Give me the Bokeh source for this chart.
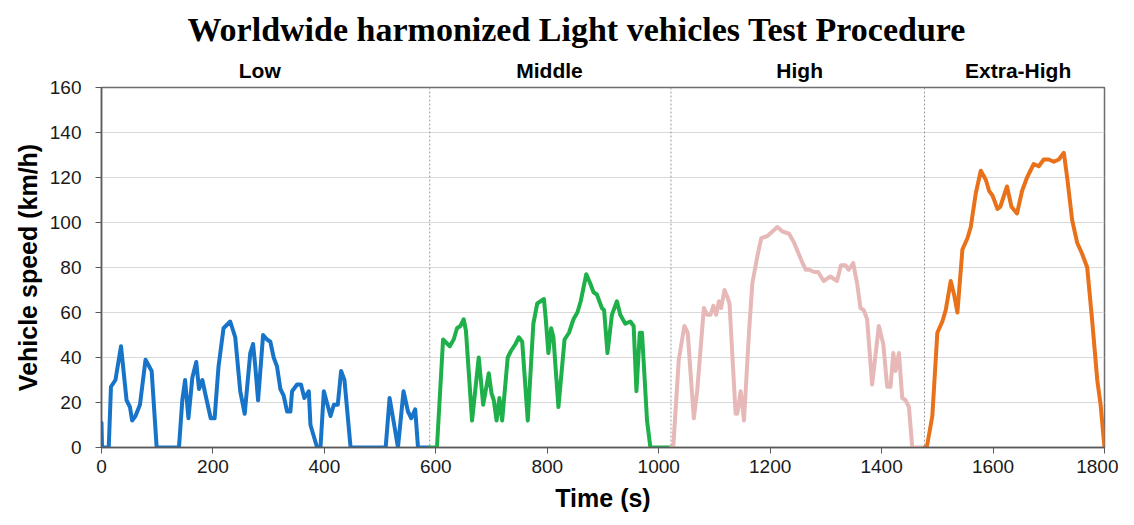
from bokeh.plotting import figure
from bokeh.models import Range1d, LinearAxis, FixedTicker, Span, Title
from bokeh.embed import file_html
from bokeh.resources import INLINE

# ---- data ----
title_text = "Worldwide harmonized Light vehicles Test Procedure"
phase_names = ["Low", "Middle", "High", "Extra-High"]
phase_label_t = [284, 804, 1253, 1645]
phase_bounds = [589, 1022, 1477]

t_low = [0, 1, 13, 17, 25, 35, 45, 51, 55, 61, 69, 79, 90, 99, 139, 145, 150, 156, 163, 170,
         175, 181, 187, 196, 203, 210, 219, 231, 240, 249, 257, 267, 272, 276, 281, 290, 297,
         303, 309, 315, 321, 327, 333, 339, 342, 351, 358, 364, 372, 375, 387, 393, 399, 411,
         417, 424, 430, 436, 447, 510, 517, 526, 532, 542, 550, 556, 563, 568, 589]
v_low = [11, 0, 0, 27, 30, 45, 21, 18, 12, 14, 19, 39, 34, 0, 0, 21, 30, 13, 31, 38,
         26, 30, 23, 13, 13, 36, 53, 56, 49, 25, 15, 42, 46, 36, 21, 50, 48,
         47, 40, 36, 26, 23, 16, 16, 25, 28, 28, 22, 25, 10, 0, 0, 25, 14,
         19, 19, 34, 30, 0, 0, 22, 9, 0, 25, 16, 13, 17, 0, 0]

t_mid = [589, 602, 613, 625, 632, 638, 644, 650, 654, 665, 677, 685, 695, 700, 704, 709, 714,
         719, 729, 735, 743, 749, 755, 765, 775, 782, 794, 797, 802, 807, 811, 820, 831, 839,
         847, 854, 860, 870, 877, 883, 889, 898, 902, 908, 916, 925, 931, 940, 949, 955, 960,
         966, 970, 979, 985, 1022]
v_mid = [0, 0, 48, 45, 48, 53, 54, 57, 52, 12, 40, 19, 33, 24, 21, 12, 22,
         12, 40, 43, 46, 49, 47, 12, 55, 64, 66, 58, 42, 53, 49, 18, 48, 51,
         57, 60, 65, 77, 73, 69, 68, 62, 61, 42, 59, 65, 59, 55, 56, 54, 25,
         51, 51, 12, 0, 0]

t_high = [1022, 1026, 1036, 1046, 1052, 1063, 1069, 1081, 1087, 1093, 1098, 1103, 1108, 1112,
          1118, 1123, 1127, 1138, 1141, 1147, 1153, 1162, 1168, 1177, 1184, 1195, 1204, 1213,
          1222, 1234, 1243, 1258, 1264, 1270, 1279, 1286, 1296, 1308, 1320, 1327, 1335, 1341,
          1349, 1356, 1362, 1368, 1374, 1383, 1395, 1403, 1410, 1416, 1421, 1425, 1431, 1437,
          1443, 1449, 1455, 1477]
v_high = [0, 0, 39, 54, 51, 13, 25, 62, 59, 59, 63, 59, 65, 62,
          70, 67, 64, 15, 15, 25, 12, 51, 73, 85, 93, 94, 96, 98,
          96, 95, 91, 82, 79, 79, 78, 78, 74, 76, 74, 81, 81, 79,
          82, 73, 62, 61, 57, 28, 54, 46, 27, 27, 42, 34, 42, 22,
          21, 18, 0, 0]

t_xhigh = [1477, 1481, 1491, 1500, 1509, 1515, 1524, 1530, 1536, 1545, 1554, 1560, 1569, 1578,
           1587, 1593, 1599, 1608, 1613, 1625, 1633, 1643, 1652, 1661, 1673, 1682, 1691, 1700,
           1709, 1718, 1727, 1733, 1742, 1751, 1760, 1769, 1778, 1787, 1793, 1800]
v_xhigh = [0, 0, 14, 51, 56, 61, 74, 68, 60, 88, 93, 98, 113, 123,
           119, 114, 112, 106, 107, 116, 107, 104, 114, 120, 126, 125, 128, 128,
           127, 128, 131, 120, 101, 91, 86, 80, 56, 30, 19, 0]

x_ticks = list(range(0, 1801, 200))
y_ticks = list(range(0, 161, 20))

colors = ["#1874c8", "#1eb04a", "#e6b9b8", "#e8711a"]

p = figure(width=1118, height=517, x_range=Range1d(0, 1800), y_range=Range1d(0, 160),
           output_backend="svg", toolbar_location=None,
           min_border_left=101, min_border_right=14, min_border_top=87, min_border_bottom=70)

p.title = Title(text=title_text, align="left",
                text_font="Liberation Serif", text_font_style="bold", text_font_size="34px",
                text_line_height=1.0, text_color="#000000", offset=86, standoff=16)

p.outline_line_color = "#6e6e6e"
p.outline_line_width = 1.5
p.background_fill_color = "white"
p.border_fill_color = "white"

p.xgrid.visible = False
p.ygrid.grid_line_color = "#d9d9d9"
p.ygrid.grid_line_width = 1

for ax in (p.xaxis[0], p.yaxis[0]):
    ax.axis_line_color = "#595959"
    ax.axis_line_width = 1.5
    ax.major_tick_line_color = "#595959"
    ax.major_tick_out = 6
    ax.major_tick_in = 0
    ax.minor_tick_line_color = None
    ax.major_label_text_font = "Liberation Sans"
    ax.major_label_text_font_size = "19px"
    ax.major_label_text_color = "#1a1a1a"
    ax.axis_label_text_font = "Liberation Sans"
    ax.axis_label_text_font_size = "25px"
    ax.axis_label_text_font_style = "bold"
    ax.axis_label_text_color = "#000000"

p.xaxis.ticker = FixedTicker(ticks=x_ticks)
p.yaxis.ticker = FixedTicker(ticks=y_ticks)
p.xaxis.axis_label = "Time (s)"
p.yaxis.axis_label = "Vehicle speed (km/h)"
p.xaxis.major_label_standoff = 6
p.yaxis.major_label_standoff = 14
p.xaxis.axis_label_standoff = 8
p.yaxis.axis_label_standoff = 5

top = LinearAxis(ticker=FixedTicker(ticks=phase_label_t),
                 major_label_overrides={t: n for t, n in zip(phase_label_t, phase_names)})
top.axis_line_color = None
top.major_tick_line_color = None
top.minor_tick_line_color = None
top.major_label_text_font = "Liberation Sans"
top.major_label_text_font_style = "bold"
top.major_label_text_font_size = "21px"
top.major_label_text_color = "#000000"
top.major_label_standoff = 0
p.add_layout(top, "above")

for b in phase_bounds:
    p.add_layout(Span(location=b, dimension="height", line_color="#9a9a9a",
                      line_dash="2 2", line_width=1))

for (tt, vv), c in zip([(t_low, v_low), (t_mid, v_mid), (t_high, v_high), (t_xhigh, v_xhigh)], colors):
    p.line(tt, vv, line_color=c, line_width=4, line_join="round", line_cap="round")

open("out.html", "w").write(file_html(p, INLINE))
